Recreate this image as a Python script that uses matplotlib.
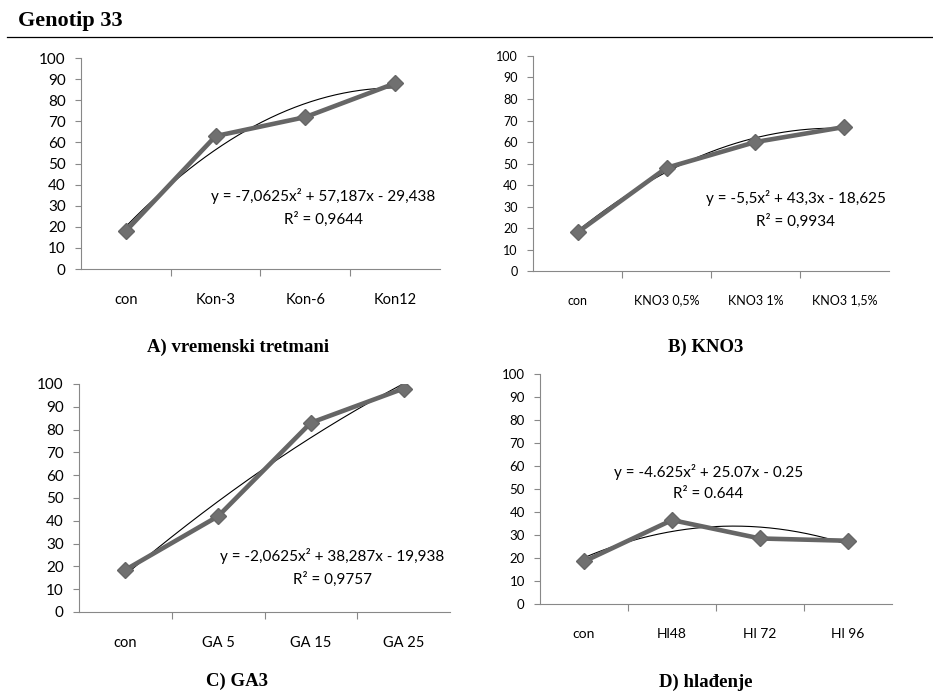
import matplotlib
matplotlib.use("Agg")
import matplotlib.pyplot as plt
import numpy as np

# podaci za Genotip 33
labels_a = ["con", "Kon-3", "Kon-6", "Kon12"]
values_a = [18, 63, 72, 88]
labels_b = ["con", "KNO3 0,5%", "KNO3 1%", "KNO3 1,5%"]
values_b = [18, 48, 60, 67]
labels_c = ["con", "GA 5", "GA 15", "GA 25"]
values_c = [18.5, 42, 83, 98]
labels_d = ["con", "Hl48", "Hl 72", "Hl 96"]
values_d = [18.5, 36.5, 28.5, 27.5]

eq_a = "y = -7,0625x² + 57,187x - 29,438\nR² = 0,9644"
eq_b = "y = -5,5x² + 43,3x - 18,625\nR² = 0,9934"
eq_c = "y = -2,0625x² + 38,287x - 19,938\nR² = 0,9757"
eq_d = "y = -4.625x² + 25.07x - 0.25\nR² = 0.644"

plt.rcParams['font.family'] = ['Lato', 'DejaVu Sans']

fig = plt.figure(figsize=(9.33, 6.93), dpi=100)

fig.text(0.019, 0.970, "Genotip 33", fontsize=16, fontweight="bold",
         family="Liberation Serif", va="center", ha="left")
fig.add_artist(plt.Line2D([0.008, 1.0], [0.947, 0.947], color="black", lw=0.9))


def panel(rect, labels, values, eq, eq_pos, subtitle, sub_xy, tick_fs, lab_fs):
    ax = fig.add_axes(rect)
    x = np.arange(1, len(values) + 1)
    # trend (polinom 2. reda)
    coef = np.polyfit(x, values, 2)
    xs = np.linspace(1, len(values), 200)
    ax.plot(xs, np.polyval(coef, xs), color="black", lw=0.8, zorder=2)
    ax.plot(x, values, color="#666666", lw=3.3, marker="D", markersize=8,
            markerfacecolor="#707070", markeredgecolor="#666666", zorder=3)
    ax.set_xlim(0.5, len(values) + 0.5)
    ax.set_ylim(0, 100)
    ax.set_yticks(range(0, 101, 10))
    ax.tick_params(axis="y", labelsize=tick_fs, length=4, color="#888888",
                   direction="out", pad=7)
    ax.set_xticks([1.5, 2.5, 3.5])
    ax.set_xticklabels([])
    ax.tick_params(axis="x", which="major", length=5, color="#888888", direction="out")
    ax.set_xticks(x, minor=True)
    ax.set_xticklabels(labels, minor=True, fontsize=lab_fs)
    ax.tick_params(axis="x", which="minor", length=0, pad=17)
    for s in ["top", "right"]:
        ax.spines[s].set_visible(False)
    for s in ["left", "bottom"]:
        ax.spines[s].set_color("#888888")
    ax.text(eq_pos[0], eq_pos[1], eq, ha="center", va="center", fontsize=11,
            linespacing=1.65)
    fig.text(sub_xy[0], sub_xy[1], subtitle, ha="center", va="center", fontsize=13.5,
             fontweight="bold", family="Liberation Serif")
    return ax


panel([0.0868, 0.6118, 0.3848, 0.3045], labels_a, values_a, eq_a, (3.2, 29),
      "A) vremenski tretmani", (238 / 933, 1 - 347 / 693), 11, 10.5)
panel([0.5713, 0.6089, 0.3815, 0.3103], labels_b, values_b, eq_b, (3.45, 28.5),
      "B) KNO3", (706 / 933, 1 - 347 / 693), 9, 9)
panel([0.0847, 0.1169, 0.3976, 0.3290], labels_c, values_c, eq_c, (3.23, 19.5),
      "C) GA3", (237 / 933, 1 - 681 / 693), 11, 10.5)
panel([0.5788, 0.1284, 0.3773, 0.3319], labels_d, values_d, eq_d, (2.41, 53),
      "D) hlađenje", (706 / 933, 1 - 682 / 693), 9.5, 10)

fig.savefig("out.png", dpi=100)
